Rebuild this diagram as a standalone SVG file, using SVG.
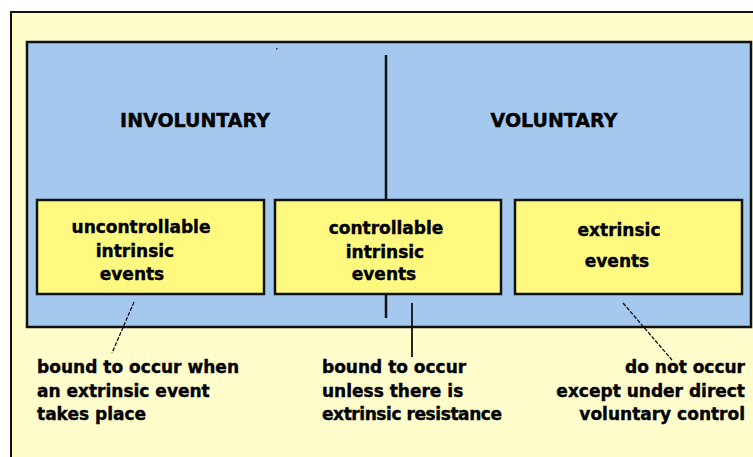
<svg xmlns="http://www.w3.org/2000/svg" width="753" height="457" viewBox="0 0 753 457">
<style>
text{font-family:"DejaVu Sans","Verdana",sans-serif;font-weight:bold;fill:#000;stroke:#000;stroke-width:0.4}
.h{font-size:19px}
.b{font-size:17px;text-anchor:middle}
.n{font-size:17px}
.box{fill:#FFFA7F;stroke:#111;stroke-width:2.5}
.c{stroke:#111;fill:none}
</style>
<rect x="11" y="12" width="760" height="470" fill="#FFFDCC" stroke="#111" stroke-width="2"/>
<rect x="27" y="42" width="724" height="285" fill="#A5C8EF" stroke="#111" stroke-width="2.5"/>
<rect x="276" y="48" width="1.5" height="1.5" fill="#333"/>
<g id="divider"><line x1="386" y1="55" x2="386" y2="318" stroke="#111" stroke-width="2.5"/></g>
<g id="involuntary"><text class="h" x="195" y="127" text-anchor="middle">INVOLUNTARY</text></g>
<g id="voluntary"><text class="h" x="554" y="127" text-anchor="middle">VOLUNTARY</text></g>
<g id="box1">
<rect class="box" x="37" y="200" width="227" height="94"/>
<text class="b" x="141" y="233">uncontrollable</text>
<text class="b" x="135" y="257">intrinsic</text>
<text class="b" x="132" y="280">events</text>
</g>
<g id="box2">
<rect class="box" x="275" y="200" width="226" height="94"/>
<text class="b" x="386" y="234">controllable</text>
<text class="b" x="385" y="258">intrinsic</text>
<text class="b" x="384" y="280">events</text>
</g>
<g id="box3">
<rect class="box" x="515" y="200" width="227" height="94"/>
<text class="b" x="619" y="236">extrinsic</text>
<text class="b" x="617" y="267">events</text>
</g>
<g id="connectors">
<line class="c" x1="134" y1="302" x2="112" y2="353" stroke-width="1.3" stroke-dasharray="4,1.5"/>
<line class="c" x1="412" y1="303" x2="412" y2="357" stroke-width="1.8"/>
<line class="c" x1="623" y1="303" x2="672" y2="360" stroke-width="1.3" stroke-dasharray="4,1.5"/>
</g>
<g id="note1">
<text class="n" x="37" y="373" textLength="202">bound to occur when</text>
<text class="n" x="37" y="397">an extrinsic event</text>
<text class="n" x="37" y="420">takes place</text>
</g>
<g id="note2">
<text class="n" x="322" y="373">bound to occur</text>
<text class="n" x="322" y="397">unless there is</text>
<text class="n" x="322" y="420" textLength="180">extrinsic resistance</text>
</g>
<g id="note3">
<text class="n" x="745" y="373" text-anchor="end">do not occur</text>
<text class="n" x="745" y="397" text-anchor="end">except under direct</text>
<text class="n" x="745" y="420" text-anchor="end">voluntary control</text>
</g>
</svg>
